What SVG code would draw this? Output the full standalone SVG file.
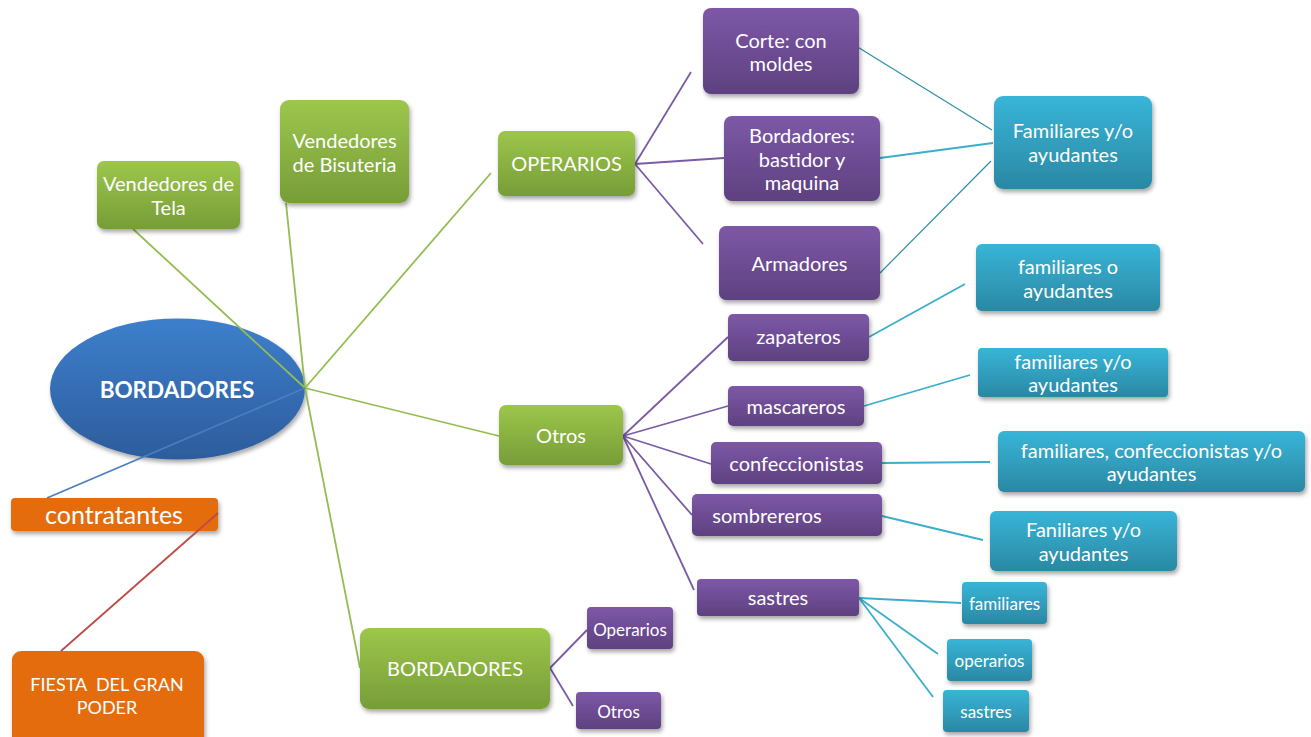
<svg xmlns="http://www.w3.org/2000/svg" width="1311" height="737" viewBox="0 0 1311 737">
  <defs>
    <linearGradient id="gGreen" x1="0" y1="0" x2="0" y2="1">
      <stop offset="0" stop-color="#9DC64B"/>
      <stop offset="1" stop-color="#779D38"/>
    </linearGradient>
    <linearGradient id="gPurple" x1="0" y1="0" x2="0" y2="1">
      <stop offset="0" stop-color="#7D58A7"/>
      <stop offset="1" stop-color="#5E4180"/>
    </linearGradient>
    <linearGradient id="gTeal" x1="0" y1="0" x2="0" y2="1">
      <stop offset="0" stop-color="#38B5D8"/>
      <stop offset="1" stop-color="#2A88A3"/>
    </linearGradient>
    <linearGradient id="gBlue" x1="0" y1="0" x2="0" y2="1">
      <stop offset="0" stop-color="#3D7FCC"/>
      <stop offset="1" stop-color="#2D5C9C"/>
    </linearGradient>
    <filter id="shadow" x="-20%" y="-20%" width="140%" height="150%">
      <feDropShadow dx="1.5" dy="3" stdDeviation="2.2" flood-color="#000" flood-opacity="0.35"/>
    </filter>
  </defs>
  <style>
    .box { filter: url(#shadow); }
    .green { fill: url(#gGreen); }
    .purple { fill: url(#gPurple); }
    .teal { fill: url(#gTeal); }
    .orange { fill: #E46C0A; }
    text { font-family: Lato, "Liberation Sans", sans-serif; fill: #FFFFFF; text-anchor: middle; dominant-baseline: central; }
    .t18 { font-size: 20px; }
    .t16 { font-size: 18px; }
    .t15 { font-size: 17px; }
    .big { font-size: 25px; }
    .title { font-size: 22.5px; font-weight: bold; }
    .ln { fill: none; stroke-width: 1.8; }
    .lg { stroke: #93BD52; }
    .lp { stroke: #7B5BA6; }
    .lt { stroke: #3AAECB; }
    .ltd { stroke: #2E8EA8; stroke-width: 1.2; }
    .lb { stroke: #4A7EC0; }
    .lr { stroke: #BE4B48; }
  </style>

  <!-- central ellipse sits under the spokes -->
  <g id="n-bordadores-root">
    <ellipse class="box" cx="177.5" cy="389" rx="127.5" ry="70.5" fill="url(#gBlue)"/>
    <text class="title" x="177" y="389">BORDADORES</text>
  </g>

  <!-- orange nodes (the red link is drawn over their corners) -->
  <g id="n-contratantes">
    <rect class="box orange" x="11" y="498" width="207" height="33" rx="4"/>
    <text class="big" x="114" y="513.5">contratantes</text>
  </g>
  <g id="n-fiesta">
    <rect class="box orange" x="12" y="651" width="192" height="100" rx="9"/>
    <text class="t16" x="107" y="684" xml:space="preserve">FIESTA  DEL GRAN</text>
    <text class="t16" x="107" y="707">PODER</text>
  </g>

  <g id="connectors">
    <!-- spokes from the hub -->
    <line class="ln lg" x1="133" y1="229" x2="305" y2="388"/>
    <line class="ln lg" x1="286" y1="203" x2="305" y2="388"/>
    <line class="ln lg" x1="305" y1="388" x2="491" y2="173"/>
    <line class="ln lg" x1="305" y1="388" x2="499" y2="436"/>
    <line class="ln lg" x1="305" y1="388" x2="360" y2="668"/>
    <line class="ln lb" x1="305" y1="388" x2="47" y2="498"/>
    <line class="ln lr" x1="218" y1="513" x2="61" y2="651"/>
    <!-- OPERARIOS branches -->
    <line class="ln lp" x1="635" y1="164" x2="691" y2="72"/>
    <line class="ln lp" x1="635" y1="164" x2="724" y2="158"/>
    <line class="ln lp" x1="635" y1="164" x2="703" y2="244"/>
    <!-- Otros branches -->
    <line class="ln lp" x1="623" y1="436" x2="728" y2="337"/>
    <line class="ln lp" x1="623" y1="436" x2="728" y2="406"/>
    <line class="ln lp" x1="623" y1="436" x2="711" y2="464"/>
    <line class="ln lp" x1="623" y1="436" x2="692" y2="515"/>
    <line class="ln lp" x1="623" y1="436" x2="694" y2="590"/>
    <!-- lower BORDADORES branches -->
    <line class="ln lp" x1="550" y1="668" x2="587" y2="630"/>
    <line class="ln lp" x1="550" y1="668" x2="573" y2="706"/>
    <!-- helpers -->
    <line class="ln ltd" x1="856" y1="46" x2="992" y2="130"/>
    <line class="ln lt" x1="880" y1="158" x2="993" y2="143"/>
    <line class="ln ltd" x1="880" y1="273" x2="991" y2="161"/>
    <line class="ln lt" x1="869" y1="337" x2="965" y2="284"/>
    <line class="ln lt" x1="864" y1="406" x2="970" y2="375"/>
    <line class="ln lt" x1="882" y1="463" x2="990" y2="462"/>
    <line class="ln lt" x1="882" y1="516" x2="983" y2="540"/>
    <line class="ln lt" x1="859" y1="598" x2="961" y2="603"/>
    <line class="ln lt" x1="859" y1="598" x2="938" y2="654"/>
    <line class="ln lt" x1="859" y1="598" x2="933" y2="697"/>
  </g>

  <!-- green first-level nodes -->
  <g id="n-tela">
    <rect class="box green" x="97" y="161" width="143" height="68" rx="7"/>
    <text class="t18" x="168.5" y="183">Vendedores de</text>
    <text class="t18" x="168.5" y="207">Tela</text>
  </g>
  <g id="n-bisuteria">
    <rect class="box green" x="280" y="100" width="129" height="103" rx="9"/>
    <text class="t18" x="344.5" y="140">Vendedores</text>
    <text class="t18" x="344.5" y="164">de Bisuteria</text>
  </g>
  <g id="n-operarios">
    <rect class="box green" x="498" y="131" width="137" height="65" rx="7"/>
    <text class="t18" x="566.5" y="163">OPERARIOS</text>
  </g>
  <g id="n-otros">
    <rect class="box green" x="499" y="405" width="124" height="60" rx="7"/>
    <text class="t18" x="561" y="435">Otros</text>
  </g>
  <g id="n-bordadores-sub">
    <rect class="box green" x="360" y="628" width="190" height="81" rx="9"/>
    <text class="t18" x="455" y="668">BORDADORES</text>
  </g>

  <!-- purple nodes -->
  <g id="n-corte">
    <rect class="box purple" x="703" y="8" width="156" height="86" rx="8"/>
    <text class="t18" x="781" y="40">Corte: con</text>
    <text class="t18" x="781" y="63">moldes</text>
  </g>
  <g id="n-bordadores-bastidor">
    <rect class="box purple" x="724" y="116" width="156" height="85" rx="8"/>
    <text class="t18" x="802" y="135">Bordadores:</text>
    <text class="t18" x="802" y="159">bastidor y</text>
    <text class="t18" x="802" y="182">maquina</text>
  </g>
  <g id="n-armadores">
    <rect class="box purple" x="719" y="226" width="161" height="74" rx="7"/>
    <text class="t18" x="799.5" y="263">Armadores</text>
  </g>
  <g id="n-zapateros">
    <rect class="box purple" x="728" y="314" width="141" height="47" rx="5"/>
    <text class="t18" x="798.5" y="336">zapateros</text>
  </g>
  <g id="n-mascareros">
    <rect class="box purple" x="728" y="386" width="136" height="40" rx="5"/>
    <text class="t18" x="796" y="406">mascareros</text>
  </g>
  <g id="n-confeccionistas">
    <rect class="box purple" x="711" y="442" width="171" height="42" rx="5"/>
    <text class="t18" x="796.5" y="463">confeccionistas</text>
  </g>
  <g id="n-sombrereros">
    <rect class="box purple" x="692" y="494" width="190" height="42" rx="5"/>
    <text class="t18" x="767" y="515">sombrereros</text>
  </g>
  <g id="n-sastres">
    <rect class="box purple" x="697" y="579" width="162" height="37" rx="4"/>
    <text class="t18" x="778" y="597">sastres</text>
  </g>
  <g id="n-operarios-sub">
    <rect class="box purple" x="587" y="607" width="86" height="42" rx="4"/>
    <text class="t15" x="630" y="629">Operarios</text>
  </g>
  <g id="n-otros-sub">
    <rect class="box purple" x="576" y="692" width="85" height="37" rx="4"/>
    <text class="t15" x="618.5" y="711">Otros</text>
  </g>

  <!-- teal nodes -->
  <g id="n-familiares-1">
    <rect class="box teal" x="994" y="96" width="158" height="93" rx="9"/>
    <text class="t18" x="1073" y="130">Familiares y/o</text>
    <text class="t18" x="1073" y="154">ayudantes</text>
  </g>
  <g id="n-familiares-2">
    <rect class="box teal" x="976" y="244" width="184" height="67" rx="6"/>
    <text class="t18" x="1068" y="266">familiares o</text>
    <text class="t18" x="1068" y="290">ayudantes</text>
  </g>
  <g id="n-familiares-3">
    <rect class="box teal" x="978" y="348" width="190" height="49" rx="4"/>
    <text class="t18" x="1073" y="361">familiares y/o</text>
    <text class="t18" x="1073" y="384">ayudantes</text>
  </g>
  <g id="n-familiares-4">
    <rect class="box teal" x="998" y="431" width="307" height="61" rx="6"/>
    <text class="t18" x="1151.5" y="450">familiares, confeccionistas y/o</text>
    <text class="t18" x="1151.5" y="473">ayudantes</text>
  </g>
  <g id="n-familiares-5">
    <rect class="box teal" x="990" y="511" width="187" height="60" rx="6"/>
    <text class="t18" x="1083.5" y="529">Faniliares y/o</text>
    <text class="t18" x="1083.5" y="553">ayudantes</text>
  </g>
  <g id="n-familiares-6">
    <rect class="box teal" x="962" y="582" width="85" height="42" rx="4"/>
    <text class="t15" x="1004.5" y="603">familiares</text>
  </g>
  <g id="n-operarios-teal">
    <rect class="box teal" x="947" y="639" width="85" height="42" rx="4"/>
    <text class="t15" x="989.5" y="660">operarios</text>
  </g>
  <g id="n-sastres-teal">
    <rect class="box teal" x="943" y="690" width="86" height="42" rx="4"/>
    <text class="t15" x="986" y="711">sastres</text>
  </g>
</svg>
